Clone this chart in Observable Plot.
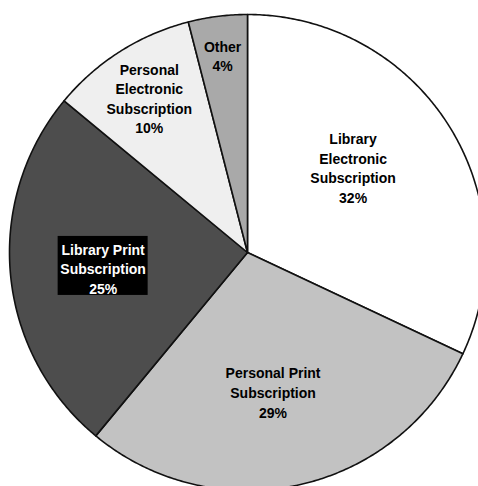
<!DOCTYPE html>
<html>
<head>
<meta charset="utf-8">
<script src="https://cdn.jsdelivr.net/npm/d3@7"></script>
<script src="https://cdn.jsdelivr.net/npm/@observablehq/plot@0.6"></script>
<style>
  html, body { margin: 0; padding: 0; background: #ffffff; }
  #chart svg { display: block; overflow: hidden; }
</style>
</head>
<body>
<div id="chart"></div>
<script>
// Data
const categories = ["Library Electronic Subscription", "Personal Print Subscription", "Library Print Subscription", "Personal Electronic Subscription", "Other"];
const labelLines = [["Library", "Electronic", "Subscription"], ["Personal Print", "Subscription"], ["Library Print", "Subscription"], ["Personal", "Electronic", "Subscription"], ["Other"]];
const shares = [32, 29, 25, 10, 4];

// Layout (not data)
const colors = ["#ffffff", "#c2c2c2", "#4d4d4d", "#efefef", "#a9a9a9"];
const labelRadius = [0.57, 0.595, 0.61, 0.77, 0.835];
const labelAngleShift = [-6.5, 2.2, -0.7, 0, 0];
const labelColor = ["#000", "#000", "#fff", "#000", "#000"];

const W = 478, H = 486;
const cx = 247, cy = 252, R = 238;
const pxPerUnit = R; // data unit = radius

// Build slice polygons from shares
const total = d3.sum(shares);
const slicePts = [];
const labels = [];
let acc = 0;
shares.forEach((v, i) => {
  const a0 = acc / total * 360;
  const a1 = (acc + v) / total * 360;
  acc += v;
  const toXY = (deg, r) => {
    const t = deg * Math.PI / 180;
    return [r * Math.sin(t), r * Math.cos(t)];
  };
  slicePts.push({cat: categories[i], x: 0, y: 0});
  const n = Math.max(2, Math.ceil((a1 - a0) / 0.5));
  for (let k = 0; k <= n; k++) {
    const [x, y] = toXY(a0 + (a1 - a0) * k / n, 1);
    slicePts.push({cat: categories[i], x, y});
  }
  slicePts.push({cat: categories[i], x: 0, y: 0});
  const mid = (a0 + a1) / 2 + labelAngleShift[i];
  const [lx, ly] = toXY(mid, labelRadius[i]);
  labels.push({cat: categories[i], x: lx, y: ly, text: labelLines[i].concat([shares[i] + "%"]).join("\n"), color: labelColor[i], i});
});

// black box behind the dark slice label
const boxW = 90 / pxPerUnit, boxH = 59 / pxPerUnit;
const boxes = labels.filter(d => d.color === "#fff").map(d => ({
  x1: d.x - boxW / 2, x2: d.x + boxW / 2, y1: d.y - boxH / 2 + 2 / pxPerUnit, y2: d.y + boxH / 2 + 2 / pxPerUnit
}));

const chart = Plot.plot({
  width: W,
  height: H,
  margin: 0,
  style: {background: "#ffffff", fontFamily: "Liberation Sans, Arial, sans-serif"},
  x: {domain: [-1, 1], range: [cx - R, cx + R], axis: null},
  y: {domain: [-1, 1], range: [cy + R, cy - R], axis: null},
  color: {domain: categories, range: colors},
  marks: [
    Plot.line(slicePts, {x: "x", y: "y", z: "cat", fill: "cat", stroke: "#111", strokeWidth: 1.6, strokeLinejoin: "round", curve: "linear"}),
    Plot.rect(boxes, {x1: "x1", x2: "x2", y1: "y1", y2: "y2", fill: "#000"}),
    Plot.text(labels, {x: "x", y: "y", text: "text", fill: "color", fontSize: 14, fontWeight: "bold", lineHeight: 1.4, fontFamily: "Liberation Sans, Arial, sans-serif"})
  ]
});
document.getElementById("chart").appendChild(chart);
</script>
</body>
</html>
